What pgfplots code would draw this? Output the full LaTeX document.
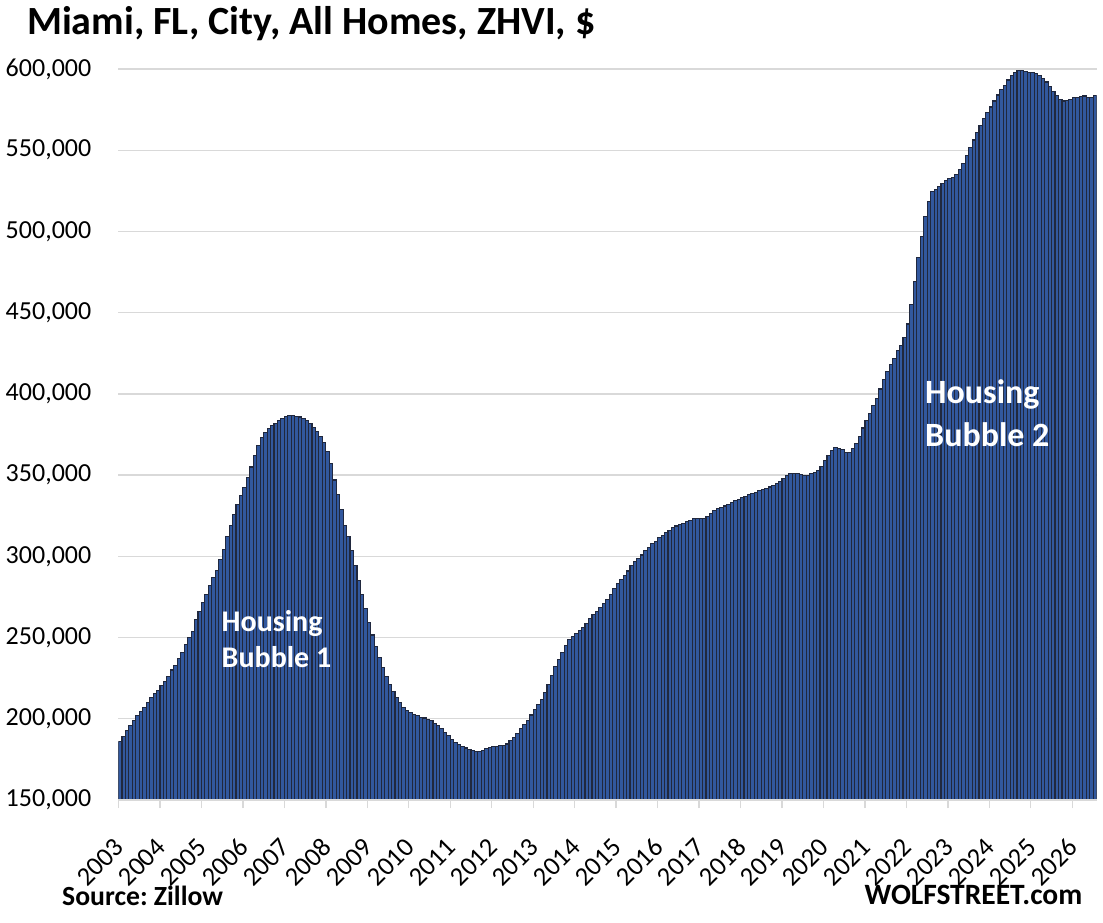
\documentclass[border=0pt]{standalone}
\usepackage{fontspec}
\setmainfont{Carlito}
\usepackage{pgfplots}
\pgfplotsset{compat=1.18}
\definecolor{gridgray}{RGB}{217,217,217}
\definecolor{barfill}{RGB}{50,88,158}
\definecolor{baredge}{RGB}{32,40,62}
\frenchspacing
\begin{document}
\begin{tikzpicture}
\path[use as bounding box] (-118.5pt,-122pt) rectangle (984.5pt,800pt);
\begin{axis}[
  at={(0pt,0pt)}, anchor=south west,
  width=978pt, height=731pt, scale only axis,
  xmin=-0.5, xmax=282.5, ymin=150000, ymax=600000,
  enlargelimits=false, clip mode=individual,
  axis line style={draw=none},
  ymajorgrids, grid style={gridgray, line width=1.3pt},
  ytick={150000,200000,...,600000},
  scaled y ticks=false,
  /pgf/number format/assume math mode=true,
  yticklabel style={/pgf/number format/.cd, fixed, precision=0, 1000 sep={,}, /tikz/.cd, font=\fontsize{26}{30}\selectfont, anchor=east, inner sep=0pt, xshift=-19pt},
  ytick style={draw=none},
  xtick={-0.5,11.5,...,275.5},
  xticklabels={2003,2004,2005,2006,2007,2008,2009,2010,2011,2012,2013,2014,2015,2016,2017,2018,2019,2020,2021,2022,2023,2024,2025,2026},
  xtick pos=left, tick align=outside, major tick length=8pt,
  xtick style={gridgray, line width=1.3pt},
  xticklabel style={font=\fontsize{26.5}{30}\selectfont, xshift=1pt, yshift=-35pt, rotate=45, anchor=east, inner sep=0pt},
]
\addplot[ybar, bar width=1, fill=barfill, draw=baredge, line width=1.1pt] coordinates {
(0,186000)(1,189000)(2,193000)(3,196000)(4,199000)(5,202000)(6,204500)(7,207000)(8,210000)(9,213000)(10,215500)(11,217500)
(12,220500)(13,223000)(14,226000)(15,230000)(16,233000)(17,237000)(18,241000)(19,245500)(20,250000)(21,254000)(22,261000)(23,266000)
(24,271500)(25,276500)(26,282000)(27,287000)(28,291500)(29,298000)(30,304000)(31,312000)(32,319000)(33,326000)(34,332000)(35,337500)
(36,342500)(37,348500)(38,355000)(39,362000)(40,368000)(41,373000)(42,376500)(43,378800)(44,380800)(45,382000)(46,383700)(47,385000)
(48,386000)(49,386500)(50,386500)(51,386200)(52,385800)(53,384800)(54,383500)(55,382000)(56,379500)(57,377000)(58,373500)(59,370000)
(60,364500)(61,357000)(62,347000)(63,338000)(64,329000)(65,319000)(66,312000)(67,303500)(68,294500)(69,285000)(70,276500)(71,268000)
(72,259000)(73,251600)(74,244400)(75,237500)(76,231500)(77,226000)(78,221000)(79,217000)(80,213000)(81,210000)(82,207000)(83,205000)
(84,203700)(85,202700)(86,201800)(87,201000)(88,200500)(89,199800)(90,198700)(91,197300)(92,196000)(93,194000)(94,191800)(95,189500)
(96,187300)(97,185400)(98,184000)(99,182800)(100,182000)(101,181200)(102,180300)(103,179800)(104,179800)(105,180500)(106,181500)(107,182500)
(108,182800)(109,182900)(110,183300)(111,183600)(112,184500)(113,186500)(114,188500)(115,191000)(116,193800)(117,196300)(118,199000)(119,202300)
(120,205700)(121,208900)(122,212000)(123,216000)(124,221300)(125,226400)(126,232000)(127,236600)(128,240600)(129,244900)(130,248600)(131,250500)
(132,252600)(133,254200)(134,256200)(135,258700)(136,262000)(137,264300)(138,266300)(139,268300)(140,271000)(141,273400)(142,276600)(143,280000)
(144,283200)(145,285900)(146,288400)(147,291000)(148,294300)(149,296700)(150,298400)(151,300800)(152,303500)(153,305600)(154,307900)(155,309400)
(156,311400)(157,312900)(158,314600)(159,316000)(160,317600)(161,318700)(162,319500)(163,320300)(164,321300)(165,322200)(166,323200)(167,323400)
(168,323200)(169,323100)(170,324400)(171,326200)(172,328000)(173,329500)(174,330300)(175,331000)(176,332000)(177,333200)(178,334300)(179,335200)
(180,336000)(181,337100)(182,338300)(183,338900)(184,339500)(185,340500)(186,341400)(187,342000)(188,342700)(189,343500)(190,344600)(191,346300)
(192,347800)(193,350000)(194,350900)(195,351100)(196,351000)(197,350500)(198,349900)(199,349900)(200,351000)(201,351800)(202,353000)(203,355500)
(204,359000)(205,362000)(206,365300)(207,367000)(208,366500)(209,365500)(210,363700)(211,364000)(212,366300)(213,369500)(214,374000)(215,379000)
(216,383800)(217,387900)(218,392800)(219,397400)(220,403000)(221,409000)(222,414000)(223,418200)(224,422000)(225,426700)(226,430000)(227,434500)
(228,443000)(229,455000)(230,469000)(231,484000)(232,497000)(233,509000)(234,518700)(235,524500)(236,526000)(237,527400)(238,529400)(239,531300)
(240,532400)(241,533300)(242,535000)(243,538300)(244,542000)(245,546800)(246,551400)(247,556300)(248,560900)(249,565200)(250,569600)(251,573300)
(252,576600)(253,580300)(254,584000)(255,587200)(256,590000)(257,593200)(258,596000)(259,598100)(260,599100)(261,599000)(262,598300)(263,597700)
(264,597700)(265,597200)(266,596000)(267,594400)(268,592000)(269,589200)(270,586000)(271,583600)(272,581300)(273,580300)(274,580500)(275,581200)
(276,582200)(277,582700)(278,583300)(279,583400)(280,582700)(281,582600)(282,583800)
};
\draw[gridgray, line width=1.3pt] (rel axis cs:0,0) -- (rel axis cs:1,0);
\end{axis}
\node[anchor=base west, inner sep=0pt, font=\bfseries\fontsize{40}{47}\selectfont] at (-91.5pt,765.7pt) {Miami, FL, City, All Homes, ZHVI, \$};
\node[anchor=base west, inner sep=0pt, font=\bfseries\fontsize{30}{36}\selectfont, text=white] at (103pt,168.3pt) {Housing};
\node[anchor=base west, inner sep=0pt, font=\bfseries\fontsize{30}{36}\selectfont, text=white] at (103pt,133pt) {Bubble 1};
\node[anchor=base west, inner sep=0pt, font=\bfseries\fontsize{34}{40}\selectfont, text=white] at (806.5pt,396pt) {Housing};
\node[anchor=base west, inner sep=0pt, font=\bfseries\fontsize{34}{40}\selectfont, text=white] at (806.5pt,353pt) {Bubble 2};
\node[anchor=base west, inner sep=0pt, font=\bfseries\fontsize{27.7}{33}\selectfont] at (-56.5pt,-105pt) {Source: Zillow};
\node[anchor=base east, inner sep=0pt, font=\bfseries\fontsize{29.5}{35}\selectfont] at (964pt,-104pt) {WOLFSTREET.com};
\end{tikzpicture}
\end{document}
